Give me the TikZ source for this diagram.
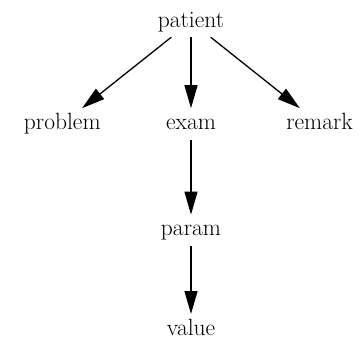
\documentclass[tikz,border=0pt]{standalone}
\usepackage{tikz}
\usetikzlibrary{positioning, arrows.meta}

\begin{document}
\begin{tikzpicture}[
    x=1pt, y=1pt,
    word/.style={
        inner sep=5pt,
        text height=16pt,
        text depth=5pt,
        font=\fontsize{23.5}{28}\selectfont
    },
    arrow/.style={line width=1.3pt, -{Triangle[length=23pt, width=13pt]}}
]

\useasboundingbox (0,0) rectangle (363,-340);

% Root
\node[word, anchor=base] (patient) at (191,-27) {patient};

% Children of patient
\node[word, below=71pt of patient] (exam) {exam};

\node[word, left=55pt of exam] (problem) {problem};

\node[word, right=60pt of exam] (remark) {remark};

% Chain below exam
\node[word, below=75pt of exam] (param) {param};

\node[word, below=68pt of param] (value) {value};

% Arrows
\draw[arrow] (patient) -- (problem);
\draw[arrow] (patient) -- (exam);
\draw[arrow] (patient) -- (remark);
\draw[arrow] (exam) -- (param);
\draw[arrow] (param) -- (value);

\end{tikzpicture}
\end{document}
